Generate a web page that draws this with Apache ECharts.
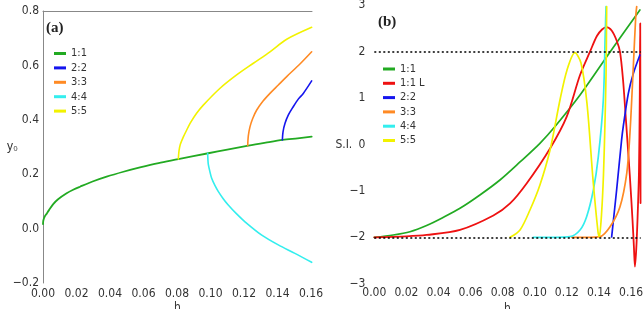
<!DOCTYPE html>
<html>
<head>
<meta charset="utf-8">
<script src="https://cdn.jsdelivr.net/npm/echarts@6/dist/echarts.min.js"></script>
<style>
html,body{margin:0;padding:0;background:#fff;}
#c{width:643px;height:309px;}
</style>
</head>
<body>
<div id="c"></div>
<script>
// ---------- Panel (a): y0 vs h ----------
const a11H = [0, 0.0002, 0.001, 0.0022, 0.0035, 0.0061, 0.009, 0.0141, 0.018, 0.0221, 0.03, 0.038, 0.048, 0.0579, 0.069, 0.0808, 0.0987, 0.11, 0.1226, 0.133, 0.1431, 0.152, 0.1604];
const a11Y = [0.017, 0.03, 0.044, 0.055, 0.067, 0.09, 0.108, 0.13, 0.143, 0.154, 0.174, 0.191, 0.209, 0.225, 0.241, 0.255, 0.277, 0.29, 0.305, 0.316, 0.326, 0.332, 0.338];
const a22H = [0.1429, 0.1433, 0.1445, 0.1465, 0.1494, 0.1524, 0.1554, 0.1604];
const a22Y = [0.326, 0.356, 0.387, 0.418, 0.448, 0.476, 0.497, 0.543];
const a33H = [0.1222, 0.1226, 0.1236, 0.1252, 0.1276, 0.1315, 0.1355, 0.1405, 0.1455, 0.1534, 0.1604];
const a33Y = [0.305, 0.342, 0.375, 0.405, 0.436, 0.470, 0.497, 0.528, 0.559, 0.605, 0.650];
const a44H = [0.0983, 0.0985, 0.0987, 0.0995, 0.1007, 0.1027, 0.1047, 0.1077, 0.1106, 0.1156, 0.1206, 0.1306, 0.1405, 0.1504, 0.1604];
const a44Y = [0.277, 0.250, 0.236, 0.213, 0.185, 0.158, 0.136, 0.109, 0.087, 0.054, 0.025, -0.024, -0.060, -0.091, -0.124];
const a55H = [0.0808, 0.0812, 0.0820, 0.0838, 0.0858, 0.0878, 0.0917, 0.0957, 0.1057, 0.1156, 0.1256, 0.1355, 0.1455, 0.1604];
const a55Y = [0.256, 0.286, 0.310, 0.337, 0.3625, 0.387, 0.424, 0.454, 0.516, 0.565, 0.608, 0.650, 0.696, 0.740];

// ---------- Panel (b): S.I. vs h ----------
const b11H = [0, 0.0118, 0.0222, 0.0326, 0.0428, 0.0534, 0.0658, 0.0783, 0.0908, 0.1032, 0.1126, 0.1282, 0.1469, 0.1655];
const b11Y = [-2.0, -1.95, -1.88, -1.746, -1.573, -1.375, -1.088, -0.765, -0.377, 0.026, 0.388, 1.067, 1.994, 2.899];
const b11LH = [0, 0.02, 0.0326, 0.0534, 0.0742, 0.0846, 0.0949, 0.1096, 0.1199, 0.1282, 0.1344, 0.1387, 0.1419, 0.1446, 0.1479, 0.151, 0.1531, 0.155, 0.1565, 0.1578, 0.1592, 0.1609, 0.1618, 0.1624, 0.1632, 0.164, 0.1649, 0.1654, 0.1657, 0.1659];
const b11LY = [-2, -1.98, -1.95, -1.84, -1.53, -1.27, -0.84, -0.08, 0.6, 1.498, 2.0, 2.338, 2.478, 2.53, 2.457, 2.241, 1.994, 1.39, 0.679, 0.032, -0.657, -1.627, -2.231, -2.634, -2.274, -1.627, -0.614, 0.959, 2.612, -1.261];
const b22H = [0.1479, 0.151, 0.1541, 0.1551, 0.1583, 0.1614, 0.1655];
const b22Y = [-1.99, -0.98, 0.1, 0.38, 1.1, 1.53, 1.93];
const b33H = [0.123, 0.1344, 0.1406, 0.1469, 0.1531, 0.1573, 0.1593, 0.1614, 0.1629, 0.1635];
const b33Y = [-2, -2, -1.987, -1.772, -1.341, -0.621, 0.241, 1.677, 2.754, 2.97];
const b44H = [0.099, 0.1126, 0.1219, 0.1282, 0.1323, 0.1365, 0.1396, 0.1427, 0.1439, 0.1444];
const b44Y = [-2, -2, -1.987, -1.843, -1.556, -0.981, -0.263, 0.959, 2.397, 2.97];
const b55H = [0.0846, 0.0908, 0.097, 0.1032, 0.1095, 0.1157, 0.1201, 0.125, 0.1288, 0.1325, 0.1363, 0.1394, 0.1402, 0.1416, 0.1428, 0.1437, 0.1444, 0.1448];
const b55Y = [-2.0, -1.843, -1.412, -0.873, -0.119, 0.959, 1.606, 1.978, 1.756, 0.894, -0.765, -1.886, -1.987, -1.498, -0.657, 0.42, 1.498, 2.97];
const siRefLines = [2, -2];

const namesA = ['1:1', '2:2', '3:3', '4:4', '5:5'];
const namesB = ['1:1', '1:1 L', '2:2', '3:3', '4:4', '5:5'];

const C = {g:'#22aa22', r:'#ee1111', b:'#1515ee', o:'#ff8a24', c:'#33eeee', y:'#f2f200'};
const NARROW = '"Liberation Sans Narrow","DejaVu Sans Condensed","Liberation Sans",sans-serif';

function zip(xs, ys){ return xs.map((x,i)=>[x, ys[i]]); }
function minus(s){ return String(s).replace('-', '\u2212'); }
function xFmt(v){ const k = v/0.02; return Math.abs(k-Math.round(k))<1e-6 ? v.toFixed(2) : ''; }

function line(name, xi, yi, data, color, w, z){
  return {type:'line', name:name, xAxisIndex:xi, yAxisIndex:yi, data:data, symbol:'none',
    smooth:0.3, clip:true, z:z||2, lineStyle:{color:color, width:w, cap:'round', join:'round'}, itemStyle:{color:color}};
}

const chart = echarts.init(document.getElementById('c'), null, {renderer:'canvas'});
const labelStyle = {color:'#333', fontSize:12, fontFamily:NARROW};
const nameStyle = {fontSize:12, fontFamily:NARROW, color:'#333'};

chart.setOption({
  animation:false,
  backgroundColor:'#fff',
  title:[
    {text:'(a)', left:46, top:21, padding:0, textStyle:{fontFamily:'"Liberation Serif","DejaVu Serif",serif', fontWeight:'bold', fontSize:15, color:'#222'}},
    {text:'(b)', left:378, top:15, padding:0, textStyle:{fontFamily:'"Liberation Serif","DejaVu Serif",serif', fontWeight:'bold', fontSize:15, color:'#222'}}
  ],
  legend:[
    {data:namesA.map(n=>({name:n})), orient:'vertical', left:54, top:48, padding:0, itemGap:3.4,
     itemWidth:12, itemHeight:3, icon:'rect', selectedMode:false,
     textStyle:{fontSize:11, fontFamily:NARROW, color:'#333'}},
    {data:namesB.map(n=>({name:n+' '})), orient:'vertical', left:383, top:63.5, padding:0, itemGap:3.3,
     itemWidth:12, itemHeight:3, icon:'rect', selectedMode:false,
     textStyle:{fontSize:11, fontFamily:NARROW, color:'#333'}}
  ],
  grid:[
    {left:43, top:11, width:269, height:272, outerBoundsMode:'none', containLabel:false},
    {left:374.3, top:5.3, width:266.4, height:278.4, outerBoundsMode:'none', containLabel:false}
  ],
  xAxis:[
    {gridIndex:0, type:'value', min:0, max:0.1606, interval:0.02, position:'bottom',
     axisLine:{show:false}, axisTick:{show:false}, splitLine:{show:false},
     axisLabel:Object.assign({margin:5, formatter:xFmt, showMaxLabel:false}, labelStyle),
     name:'h', nameLocation:'middle', nameGap:19, nameMoveOverlap:false, nameTextStyle:nameStyle},
    {gridIndex:0, type:'value', min:0, max:0.1606, position:'top',
     axisLine:{show:true, lineStyle:{color:'#888', width:1}}, axisTick:{show:false}, axisLabel:{show:false}, splitLine:{show:false}},
    {gridIndex:1, type:'value', min:0, max:0.166, interval:0.02,
     axisLine:{show:false}, axisTick:{show:false}, splitLine:{show:false},
     axisLabel:Object.assign({margin:3, formatter:xFmt, showMaxLabel:false}, labelStyle),
     name:'h', nameLocation:'middle', nameGap:19, nameMoveOverlap:false, nameTextStyle:nameStyle}
  ],
  yAxis:[
    {gridIndex:0, type:'value', min:-0.2, max:0.8, interval:0.2,
     axisLine:{show:true, lineStyle:{color:'#888', width:1}}, axisTick:{show:false}, splitLine:{show:false},
     axisLabel:Object.assign({margin:4, formatter:v=>minus(v.toFixed(1))}, labelStyle),
     name:'y\u2080', nameLocation:'middle', nameRotate:0, nameGap:25, nameMoveOverlap:false,
     nameTextStyle:{fontSize:12, fontFamily:'"Liberation Sans","DejaVu Sans",sans-serif', color:'#333'}},
    {gridIndex:1, type:'value', min:-3, max:3, interval:1,
     axisLine:{show:false}, axisTick:{show:false}, splitLine:{show:false},
     axisLabel:Object.assign({margin:9, formatter:v=>minus(v)}, labelStyle),
     name:'S.I.', nameLocation:'middle', nameRotate:0, nameGap:22, nameMoveOverlap:false,
     nameTextStyle:nameStyle}
  ],
  series:[
    line('1:1', 0, 0, zip(a11H, a11Y), C.g, 1.8, 2),
    line('2:2', 0, 0, zip(a22H, a22Y), C.b, 1.6, 3),
    line('3:3', 0, 0, zip(a33H, a33Y), C.o, 1.6, 3),
    line('4:4', 0, 0, zip(a44H, a44Y), C.c, 1.6, 3),
    line('5:5', 0, 0, zip(a55H, a55Y), C.y, 1.6, 3),

    line('1:1 ', 2, 1, zip(b11H, b11Y), C.g, 1.7, 2),
    line('1:1 L ', 2, 1, zip(b11LH, b11LY), C.r, 1.8, 2),
    line('2:2 ', 2, 1, zip(b22H, b22Y), C.b, 1.7, 3),
    line('3:3 ', 2, 1, zip(b33H, b33Y), C.o, 1.7, 3),
    line('4:4 ', 2, 1, zip(b44H, b44Y), C.c, 1.7, 3),
    line('5:5 ', 2, 1, zip(b55H, b55Y), C.y, 1.7, 3),
    {type:'line', name:'refs', xAxisIndex:2, yAxisIndex:1, data:[], symbol:'none', z:10,
     markLine:{silent:true, symbol:'none', label:{show:false}, animation:false,
       lineStyle:{color:'#000', type:[2,2.5], width:1.6},
       data:siRefLines.map(v=>({yAxis:v}))}}
  ]
});
</script>
</body>
</html>
